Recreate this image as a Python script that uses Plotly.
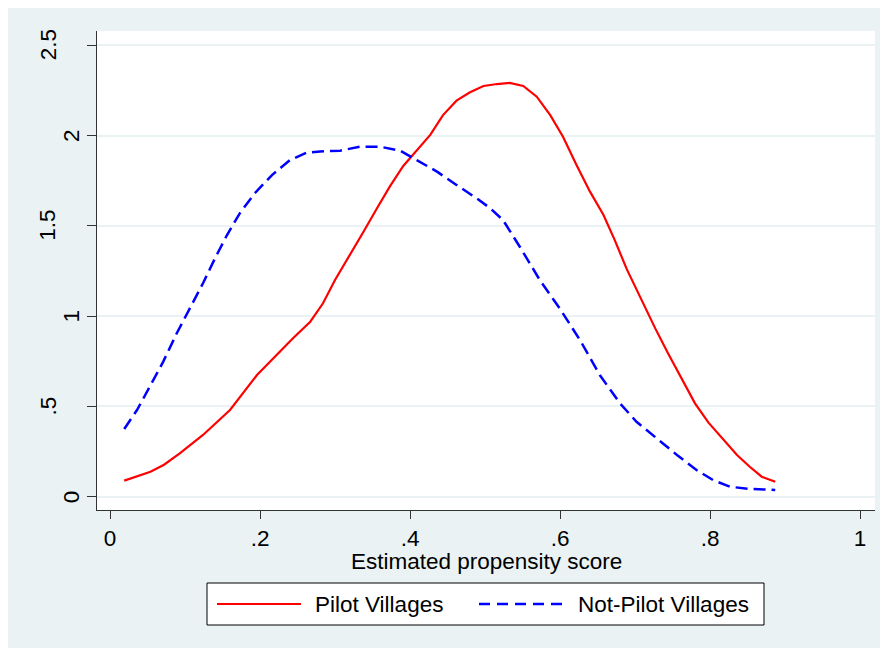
import plotly.graph_objects as go

# ---- data ----
pilot_x = [0.019, 0.054, 0.072, 0.093, 0.124, 0.160, 0.196, 0.216, 0.244, 0.267,
           0.284, 0.300, 0.320, 0.338, 0.356, 0.373, 0.391, 0.409, 0.427, 0.444,
           0.462, 0.480, 0.498, 0.516, 0.533, 0.551, 0.569, 0.587, 0.604, 0.622,
           0.640, 0.658, 0.673, 0.689, 0.707, 0.727, 0.744, 0.762, 0.780, 0.798,
           0.818, 0.836, 0.853, 0.869, 0.887]
pilot_y = [0.089, 0.138, 0.177, 0.240, 0.342, 0.480, 0.674, 0.761, 0.877, 0.969,
           1.071, 1.200, 1.338, 1.467, 1.597, 1.717, 1.831, 1.920, 2.003, 2.113,
           2.193, 2.239, 2.274, 2.285, 2.291, 2.274, 2.215, 2.113, 1.993, 1.837,
           1.689, 1.560, 1.421, 1.260, 1.100, 0.932, 0.794, 0.656, 0.517, 0.410,
           0.318, 0.231, 0.166, 0.111, 0.083]

nonpilot_x = [0.019, 0.036, 0.053, 0.071, 0.089, 0.107, 0.124, 0.140, 0.156, 0.173,
              0.193, 0.216, 0.240, 0.262, 0.280, 0.307, 0.333, 0.360, 0.387, 0.409,
              0.436, 0.462, 0.489, 0.507, 0.524, 0.547, 0.573, 0.600, 0.627, 0.653,
              0.680, 0.702, 0.729, 0.756, 0.782, 0.804, 0.827, 0.853, 0.887]
nonpilot_y = [0.375, 0.480, 0.609, 0.748, 0.905, 1.043, 1.182, 1.320, 1.449, 1.569,
              1.680, 1.781, 1.864, 1.905, 1.912, 1.916, 1.938, 1.938, 1.916, 1.864,
              1.800, 1.726, 1.652, 1.597, 1.532, 1.380, 1.200, 1.040, 0.865, 0.674,
              0.517, 0.415, 0.323, 0.231, 0.148, 0.092, 0.055, 0.043, 0.037]

series_names = ["Pilot Villages", "Not-Pilot Villages"]
x_tick_vals = [0, 0.2, 0.4, 0.6, 0.8, 1.0]
x_tick_labels = ["0", ".2", ".4", ".6", ".8", "1"]
y_tick_vals = [0, 0.5, 1, 1.5, 2, 2.5]
y_tick_labels = ["0", ".5", "1", "1.5", "2", "2.5"]
x_title = "Estimated propensity score"

# ---- styling ----
FONT = "Liberation Sans, Arial, sans-serif"
BG = "#EAF2F3"
AXIS = "#333333"
FS = 22.5
OFF = 8                      # page body margin
W, H = 880, 640
L, R, T, B = 89, 13, 23, 138
PW, PH = W - L - R, H - T - B

def px_x(p):                 # page pixel -> paper x
    return (p - OFF - L) / PW

def px_y(p):                 # page pixel -> paper y
    return (H - B - (p - OFF)) / PH

fig = go.Figure()
fig.add_trace(go.Scatter(x=pilot_x, y=pilot_y, mode="lines", name=series_names[0],
                         line=dict(color="#FF0000", width=2.2), showlegend=False))
fig.add_trace(go.Scatter(x=nonpilot_x, y=nonpilot_y, mode="lines", name=series_names[1],
                         line=dict(color="#0000FF", width=2.5, dash="12px,6px"),
                         showlegend=False))

shapes = []
# legend box
shapes.append(dict(type="rect", xref="paper", yref="paper", x0=px_x(207), x1=px_x(764),
                   y0=px_y(625), y1=px_y(583), fillcolor="white",
                   line=dict(color="black", width=1), layer="above"))
shapes.append(dict(type="line", xref="paper", yref="paper", x0=px_x(217), x1=px_x(301),
                   y0=px_y(604), y1=px_y(604), line=dict(color="#FF0000", width=2.2),
                   layer="above"))
shapes.append(dict(type="line", xref="paper", yref="paper", x0=px_x(479), x1=px_x(563),
                   y0=px_y(604), y1=px_y(604),
                   line=dict(color="#0000FF", width=2.5, dash="11px,7px"), layer="above"))

annotations = []
annotations.append(dict(text=series_names[0], xref="paper", yref="paper",
                        x=px_x(313), y=px_y(604), xanchor="left", yanchor="middle",
                        showarrow=False, font=dict(family=FONT, size=FS, color="black")))
annotations.append(dict(text=series_names[1], xref="paper", yref="paper",
                        x=px_x(576), y=px_y(604), xanchor="left", yanchor="middle",
                        showarrow=False, font=dict(family=FONT, size=FS, color="black")))
# x-axis title
annotations.append(dict(text=x_title, xref="paper", yref="paper",
                        x=0.5, y=px_y(561), xanchor="center", yanchor="middle",
                        showarrow=False, font=dict(family=FONT, size=FS, color="black")))
# rotated y tick labels (Stata-style placement)
for v, t in zip(y_tick_vals, y_tick_labels):
    cx = 71.5 if "." not in t else 48
    annotations.append(dict(text=t, xref="paper", yref="y", x=px_x(cx), y=v,
                            xanchor="center", yanchor="middle", textangle=-90,
                            showarrow=False,
                            font=dict(family=FONT, size=FS, color="black")))

fig.update_layout(
    width=W, height=H,
    margin=dict(l=L, r=R, t=T, b=B, pad=0),
    paper_bgcolor=BG, plot_bgcolor="white",
    font=dict(family=FONT, size=FS, color="black"),
    shapes=shapes, annotations=annotations,
    showlegend=False,
    xaxis=dict(range=[-0.01733, 1.02], tickvals=x_tick_vals, ticktext=x_tick_labels,
               showgrid=False, zeroline=False, showline=True, linecolor=AXIS,
               linewidth=1, ticks="outside", ticklen=8, tickcolor=AXIS, tickwidth=1,
               tickfont=dict(family=FONT, size=FS, color="black")),
    yaxis=dict(range=[-0.0736, 2.5786], tickvals=y_tick_vals, showticklabels=False,
               showgrid=True, gridcolor=BG, gridwidth=2, zeroline=False,
               showline=True, linecolor=AXIS, linewidth=1, ticks="outside",
               ticklen=9, tickcolor=AXIS, tickwidth=1),
)

fig.write_html("out.html")
